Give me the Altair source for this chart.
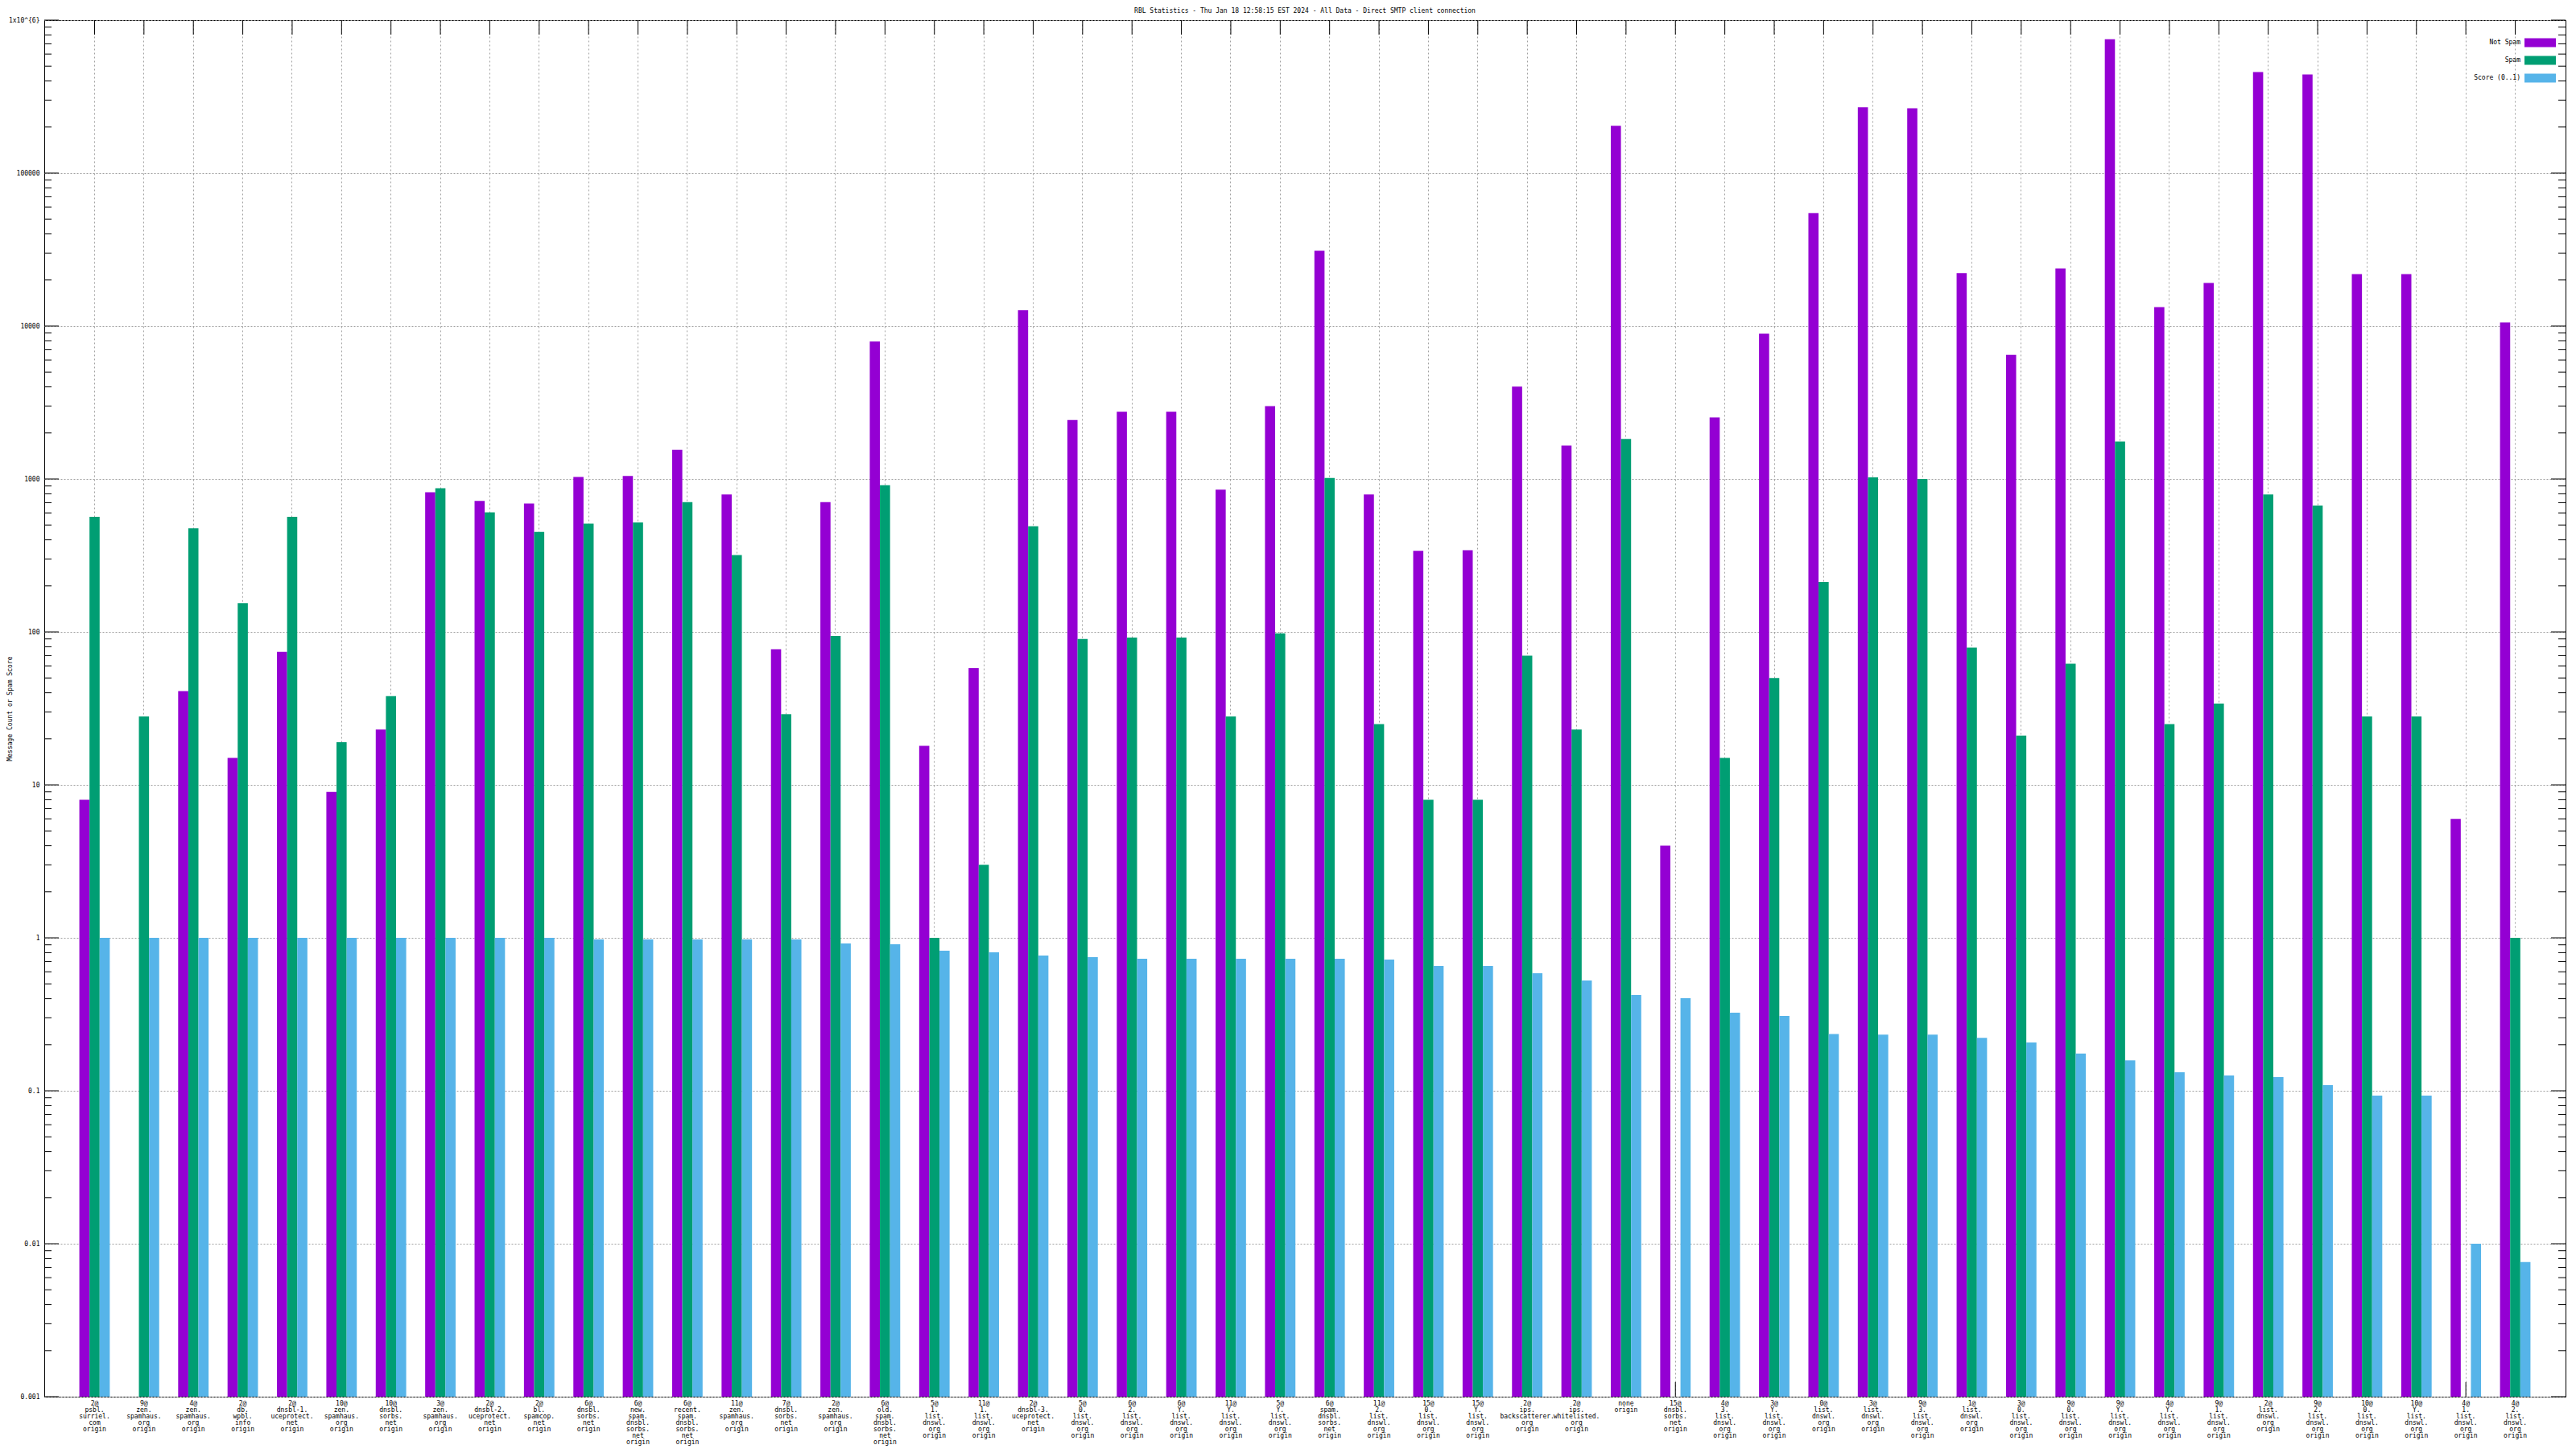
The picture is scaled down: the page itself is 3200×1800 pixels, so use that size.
import altair as alt
import pandas as pd

# ---------------- data ----------------
categories = [
    "2@psbl.surriel.com", "9@zen.spamhaus.org", "4@zen.spamhaus.org", "2@db.wpbl.info",
    "2@dnsbl-1.uceprotect.net", "10@zen.spamhaus.org", "10@dnsbl.sorbs.net", "3@zen.spamhaus.org",
    "2@dnsbl-2.uceprotect.net", "2@bl.spamcop.net", "6@dnsbl.sorbs.net", "6@new.spam.dnsbl.sorbs.net",
    "6@recent.spam.dnsbl.sorbs.net", "11@zen.spamhaus.org", "7@dnsbl.sorbs.net", "2@zen.spamhaus.org",
    "6@old.spam.dnsbl.sorbs.net", "5@1.list.dnswl.org", "11@1.list.dnswl.org", "2@dnsbl-3.uceprotect.net",
    "5@0.list.dnswl.org", "6@2.list.dnswl.org", "6@Y.list.dnswl.org", "11@Y.list.dnswl.org",
    "5@Y.list.dnswl.org", "6@spam.dnsbl.sorbs.net", "11@2.list.dnswl.org", "15@0.list.dnswl.org",
    "15@Y.list.dnswl.org", "2@ips.backscatterer.org", "2@ips.whitelisted.org", "none",
    "15@dnsbl.sorbs.net", "4@3.list.dnswl.org", "3@Y.list.dnswl.org", "0@list.dnswl.org",
    "3@list.dnswl.org", "9@3.list.dnswl.org", "1@list.dnswl.org", "3@0.list.dnswl.org",
    "9@0.list.dnswl.org", "9@Y.list.dnswl.org", "4@Y.list.dnswl.org", "9@1.list.dnswl.org",
    "2@list.dnswl.org", "9@2.list.dnswl.org", "10@0.list.dnswl.org", "10@Y.list.dnswl.org",
    "4@1.list.dnswl.org", "4@2.list.dnswl.org",
]
not_spam = [8, 0, 41, 15, 74, 9, 23, 820, 718, 691, 1031, 1047, 1553, 793, 77, 706, 7930, 18, 58,
            12700, 2433, 2755, 2755, 851, 2998, 31100, 793, 339, 342, 4018, 1652, 203700, 4, 2529,
            8907, 54700, 269000, 265000, 22170, 6487, 23790, 751000, 13300, 19140, 458000, 441000,
            21850, 21850, 6, 10550]
spam = [565, 28, 476, 154, 565, 19, 38, 871, 605, 451, 510, 519, 706, 318, 29, 94, 911, 1, 3, 491,
        90, 92, 92, 28, 98, 1016, 25, 8, 8, 70, 23, 1827, 0, 15, 50, 212, 1023, 1000, 79, 21, 62,
        1758, 25, 34, 793, 670, 28, 28, 0, 1]
score = [1, 1, 1, 1, 1, 1, 1, 1, 1, 1, 0.976, 0.976, 0.976, 0.976, 0.976, 0.919, 0.908, 0.824,
         0.804, 0.766, 0.748, 0.730, 0.730, 0.730, 0.730, 0.730, 0.721, 0.654, 0.654, 0.587, 0.526,
         0.423, 0.403, 0.324, 0.309, 0.235, 0.233, 0.233, 0.222, 0.207, 0.175, 0.158, 0.132, 0.126,
         0.123, 0.109, 0.093, 0.093, 0.01, 0.0076]

series_names = ["Not Spam", "Spam", "Score (0..1)"]
series_colors = ["#9400d3", "#009e73", "#56b4e9"]

y_major = [0.001, 0.01, 0.1, 1, 10, 100, 1000, 10000, 100000, 1000000]
y_major_labels = ["0.001", "0.01", "0.1", "1", "10", "100", "1000", "10000", "100000", "1x10^{6}"]
y_decades = [0.001, 0.01, 0.1, 1, 10, 100, 1000, 10000, 100000]
y_minor_mult = [2, 3, 4, 5, 6, 7, 8, 9]

title_text = "RBL Statistics - Thu Jan 18 12:58:15 EST 2024 - All Data - Direct SMTP client connection"
y_title = "Message Count or Spam Score"

# ---------------- layout / style ----------------
W, H = 3132, 1710
FONT = "DejaVu Sans Mono"
FS = 8
MAJ, MIN = 18, 9


def label_for(name):
    if "@" not in name:
        lines = [name]
    else:
        head, rest = name.split("@", 1)
        parts = rest.split(".")
        lines = [head + "@"] + [p + "." for p in parts[:-1]] + [parts[-1]]
    return "|".join(lines + ["origin"])


labels = [label_for(c) for c in categories]

rows = []
for lab, a, b, c in zip(labels, not_spam, spam, score):
    for s, v in zip(series_names, (a, b, c)):
        if v > 0:
            rows.append({"label": lab, "series": s, "value": v})
bars_df = pd.DataFrame(rows)
cat_df = pd.DataFrame({"label": labels})
major_df = pd.DataFrame({"value": y_major})
minor_df = pd.DataFrame({"value": [m * d for d in y_decades for m in y_minor_mult]})

x_scale = alt.Scale(paddingInner=0.384, paddingOuter=0.71)
y_scale = alt.Scale(type="log", domain=[0.001, 1000000], nice=False)

label_js = "[" + ",".join("'" + t + "'" for t in y_major_labels) + "]"

x_axis = alt.Axis(
    title=None, labelExpr="split(datum.value, '|')", labelAngle=0, labelFont=FONT,
    labelFontSize=FS, labelLineHeight=8, labelBaseline="top", labelAlign="center",
    labelPadding=4, labelColor="black", labelOverlap=False, labelLimit=300,
    ticks=False, tickSize=0, domain=False, grid=True, gridDash=[2, 3],
    gridColor="#a0a0a0", gridWidth=1,
)
y_axis = alt.Axis(
    values=y_major, labelExpr=label_js + "[round(log(datum.value)/LN10)+3]",
    labelFont=FONT, labelFontSize=FS, labelColor="black", labelPadding=6,
    ticks=False, tickSize=0, domain=False, grid=True, gridDash=[2, 2],
    gridColor="#a0a0a0", gridWidth=1, title=y_title, titleFont=FONT,
    titleFontSize=FS, titleFontWeight="normal", titleColor="black",
    titleX=-43, titleY=H / 2, titleAngle=270, titleAlign="center", titleBaseline="middle",
)

x_enc = alt.X("label:N", sort=labels, scale=x_scale, axis=x_axis)
y_enc = alt.Y("value:Q", scale=y_scale, axis=y_axis)

bars = alt.Chart(bars_df).mark_bar(strokeWidth=0).encode(
    x=x_enc,
    xOffset=alt.XOffset("series:N", sort=series_names,
                        scale=alt.Scale(domain=series_names, paddingInner=0, paddingOuter=0)),
    y=y_enc,
    y2=alt.Y2(datum=0.001),
    color=alt.Color(
        "series:N", title=None,
        scale=alt.Scale(domain=series_names, range=series_colors),
        legend=alt.Legend(
            orient="none", legendX=3064, legendY=22, direction="vertical",
            symbolType="M1.975,-1L8.98,-1L8.98,1L1.975,1Z", symbolSize=124, symbolStrokeWidth=0,
            symbolOpacity=1, labelAlign="right", labelOffset=0, labelFont=FONT,
            labelFontSize=FS, labelColor="black", rowPadding=10, padding=0,
        ),
    ),
)

top_ticks = alt.Chart(cat_df).mark_rule(color="black", strokeWidth=1).encode(
    x=x_enc, y=alt.value(0), y2=alt.value(MAJ))
bottom_ticks = alt.Chart(cat_df).mark_rule(color="black", strokeWidth=1).encode(
    x=x_enc, y=alt.value(H - MAJ), y2=alt.value(H))
major_left = alt.Chart(major_df).mark_rule(color="black", strokeWidth=1).encode(
    y=y_enc, x=alt.value(0), x2=alt.value(MAJ))
major_right = alt.Chart(major_df).mark_rule(color="black", strokeWidth=1).encode(
    y=y_enc, x=alt.value(W - MAJ), x2=alt.value(W))
minor_left = alt.Chart(minor_df).mark_rule(color="black", strokeWidth=1).encode(
    y=y_enc, x=alt.value(0), x2=alt.value(MIN))
minor_right = alt.Chart(minor_df).mark_rule(color="black", strokeWidth=1).encode(
    y=y_enc, x=alt.value(W - MIN), x2=alt.value(W))

chart = alt.layer(
    top_ticks, bottom_ticks, major_left, major_right, minor_left, minor_right, bars
).properties(
    width=W, height=H,
    padding={"left": 47, "top": 17, "right": 5, "bottom": 62},
    autosize=alt.AutoSizeParams(type="none"),
    title=alt.TitleParams(title_text, font=FONT, fontSize=FS, fontWeight="normal",
                          color="black", anchor="middle", offset=3),
    background="white",
).configure_view(stroke="black", strokeWidth=1)

chart.save("out.html", embed_options={"renderer": "svg", "actions": False})
